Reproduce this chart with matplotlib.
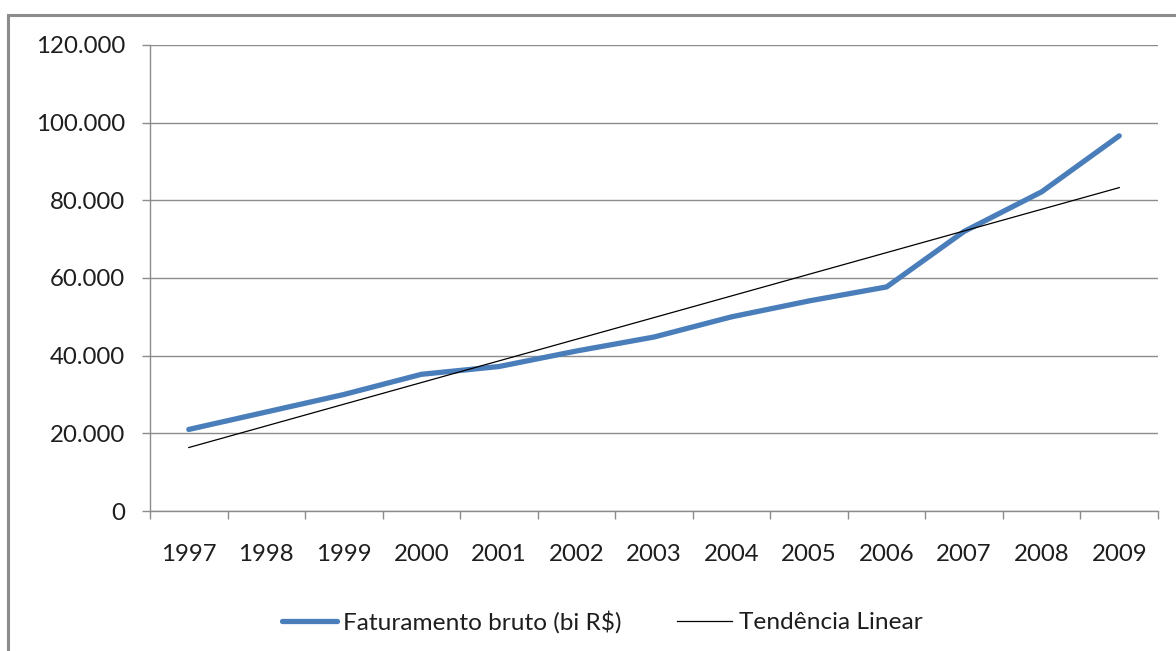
import matplotlib

matplotlib.use("Agg")
import matplotlib.pyplot as plt  # noqa: E402
import numpy as np  # noqa: E402
from matplotlib.patches import Rectangle  # noqa: E402
from matplotlib.ticker import FuncFormatter  # noqa: E402

# dados
anos = ["1997", "1998", "1999", "2000", "2001", "2002", "2003",
        "2004", "2005", "2006", "2007", "2008", "2009"]
faturamento = [21000, 25500, 30000, 35200, 37200, 41200, 44800,
               50000, 54100, 57700, 72000, 82200, 96600]
yticks = [0, 20000, 40000, 60000, 80000, 100000, 120000]

W, H = 1176, 651
plt.rcParams["font.family"] = ["Lato", "DejaVu Sans"]

fig = plt.figure(figsize=(W / 100, H / 100), dpi=100)
ax = fig.add_axes([150 / W, 1 - 511 / H, (1158 - 150) / W, (511 - 45) / H])

x = np.arange(len(anos))
# linha de tendencia (regressao linear, como no Excel)
a, b = np.polyfit(x, faturamento, 1)
tendencia = a * x + b

ax.plot(x, faturamento, color="#4A7EBB", lw=3.8, solid_capstyle="round",
        solid_joinstyle="round", label="Faturamento bruto (bi R$)", zorder=3)
ax.plot(x, tendencia, color="black", lw=0.9, label="Tendência Linear", zorder=4)

ax.set_xlim(-0.5, len(anos) - 0.5)
ax.set_ylim(0, 120000)
ax.set_yticks(yticks)
ax.yaxis.set_major_formatter(FuncFormatter(lambda v, _: f"{int(v):,}".replace(",", ".")))
ax.grid(axis="y", color="#8c8c8c", lw=1.0)
ax.set_axisbelow(True)

ax.set_xticks(x)
ax.set_xticklabels(anos)
ax.set_xticks(np.arange(-0.5, len(anos)), minor=True)
ax.tick_params(axis="x", which="major", length=0, pad=24, labelsize=17.3, colors="#1e1e1e")
ax.tick_params(axis="x", which="minor", length=6, width=1, color="#8c8c8c")
ax.tick_params(axis="y", length=6, width=1, color="#8c8c8c", pad=12,
               labelsize=17.3, labelcolor="#1e1e1e")

for s in ["top", "right"]:
    ax.spines[s].set_visible(False)
for s in ["left", "bottom"]:
    ax.spines[s].set_color("#8c8c8c")
    ax.spines[s].set_linewidth(1.0)

# borda da area do grafico (cortada a direita e embaixo)
fig.patches.append(Rectangle((8 / W, -0.05), 1.1, 1 - 15 / H + 0.05,
                             transform=fig.transFigure, fill=False,
                             edgecolor="#8c8c8c", lw=2.2))

fig.legend(loc="center", bbox_to_anchor=(602 / W, 1 - 622 / H), ncol=2,
           frameon=False, fontsize=17.6, handlelength=2.25, handletextpad=0.25,
           columnspacing=2.3, labelcolor="#1e1e1e")

fig.savefig("out.png", dpi=100)
plt.close(fig)
